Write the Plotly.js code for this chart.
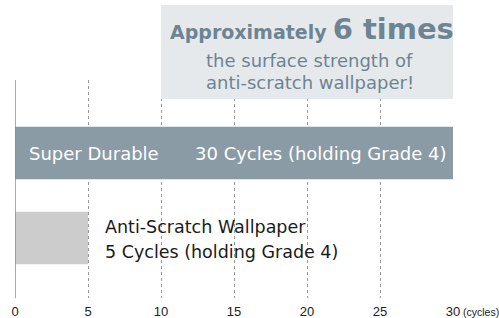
<!DOCTYPE html>
<html>
<head>
<meta charset="utf-8">
<script src="https://cdn.plot.ly/plotly-3.0.1.min.js"></script>
<style>html,body{margin:0;padding:0;background:#fff;}#chart{width:499px;height:318px;}</style>
</head>
<body>
<div id="chart"></div>
<script>
var categories = ["Anti-Scratch Wallpaper", "Super Durable"];
var cycles = [5, 30];
var barColors = ["#cbcccb", "#8a9ba6"];
var tickVals = [0, 5, 10, 15, 20, 25, 30];
var tickText = ["0", "5", "10", "15", "20", "25", "30"];

var FONT = "DejaVu Sans, sans-serif";
var TICKFONT = "Liberation Sans, Arial, sans-serif";
var BOXCOL = "#6d8493";

var trace = {
  type: "bar",
  orientation: "h",
  x: cycles,
  y: [0, 1],
  width: 0.62,
  marker: {color: barColors, line: {width: 0}},
  hoverinfo: "none"
};

var layout = {
  width: 499, height: 318,
  margin: {l: 14.5, r: 46, t: 80, b: 20},
  paper_bgcolor: "#ffffff", plot_bgcolor: "#ffffff",
  showlegend: false,
  font: {family: FONT},
  xaxis: {
    range: [0, 30], tickvals: tickVals, ticktext: tickText,
    showgrid: true, gridcolor: "#9a9a9a", griddash: "3px,3px", gridwidth: 1,
    zeroline: false, showline: false, ticks: "", ticklabelstandoff: 4,
    tickfont: {size: 13, color: "#222", family: TICKFONT},
    fixedrange: true
  },
  yaxis: {
    range: [-0.706, 1.859], showticklabels: false, showgrid: false,
    zeroline: false, showline: false, fixedrange: true
  },
  shapes: [
    {type: "line", xref: "x", yref: "paper", x0: 0, x1: 0, y0: 0, y1: 1,
     line: {color: "#8c8c8c", width: 1.5}, layer: "above"},
    {type: "rect", xref: "x", yref: "paper", x0: 10, x1: 30.68, y0: 0.913, y1: 1.344,
     fillcolor: "#e6e9ec", line: {width: 0}, layer: "above"}
  ],
  annotations: [
    {xref: "x", yref: "paper", x: 20.35, y: 1.236, xanchor: "center", yanchor: "middle",
     text: "<b>Approximately</b> <b><span style='font-size:29px'>6 times</span></b>", showarrow: false,
     font: {size: 19, color: BOXCOL, family: FONT}},
    {xref: "x", yref: "paper", x: 20.2, y: 1.09, xanchor: "center", yanchor: "middle",
     text: "the surface strength of", showarrow: false,
     font: {size: 18, color: BOXCOL, family: FONT}},
    {xref: "x", yref: "paper", x: 20.2, y: 0.99, xanchor: "center", yanchor: "middle",
     text: "anti-scratch wallpaper!", showarrow: false,
     font: {size: 18, color: BOXCOL, family: FONT}},
    {xref: "x", yref: "y", x: 0.85, y: 0.99, xanchor: "left", yanchor: "middle",
     text: "Super Durable", showarrow: false,
     font: {size: 18, color: "#ffffff", family: FONT}},
    {xref: "x", yref: "y", x: 12.2, y: 0.99, xanchor: "left", yanchor: "middle",
     text: "30 Cycles (holding Grade 4)", showarrow: false,
     font: {size: 18, color: "#ffffff", family: FONT}},
    {xref: "x", yref: "y", x: 6.0, y: 0.13, xanchor: "left", yanchor: "middle",
     text: "Anti-Scratch Wallpaper", showarrow: false,
     font: {size: 17.5, color: "#1a1a1a", family: FONT}},
    {xref: "x", yref: "y", x: 6.0, y: -0.165, xanchor: "left", yanchor: "middle",
     text: "5 Cycles (holding Grade 4)", showarrow: false,
     font: {size: 17.5, color: "#1a1a1a", family: FONT}},
    {xref: "x", yref: "paper", x: 30, y: 0, xanchor: "left", yanchor: "top", xshift: 8, yshift: -6,
     text: "(cycles)", showarrow: false,
     font: {size: 10.5, color: "#222", family: TICKFONT}}
  ]
};

Plotly.newPlot("chart", [trace], layout, {displayModeBar: false, staticPlot: true});
</script>
</body>
</html>
